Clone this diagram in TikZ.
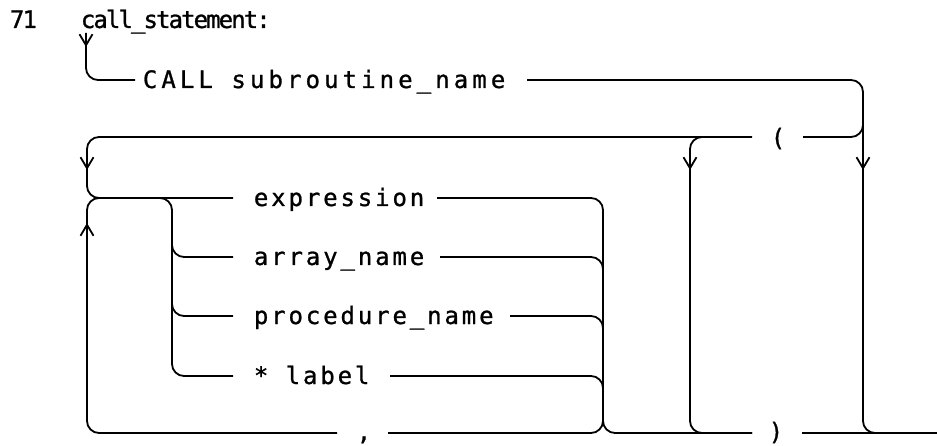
\documentclass[tikz,border=0pt]{standalone}
\usepackage{fontspec}
\setmainfont{DejaVu Sans}
\newfontfamily\rrfont[LetterSpace=12,FakeBold=1]{DejaVu Sans Mono}
\newfontfamily\rcfont[LetterSpace=17,FakeBold=1]{DejaVu Sans Mono}
\newfontfamily\rtfont[LetterSpace=-8,FakeBold=1]{DejaVu Sans Mono}
\usetikzlibrary{arrows.meta}
\begin{document}
\begin{tikzpicture}[x=1pt,y=-1pt,line width=1.8pt,rounded corners=12pt,
  lbl/.style={anchor=base west,inner sep=0pt,font={\rrfont\fontsize{24}{28}\selectfont}},
  cl/.style={anchor=base west,inner sep=0pt,font={\rcfont\fontsize{24}{28}\selectfont}},
  ttl/.style={anchor=base west,inner sep=0pt,font={\rtfont\fontsize{24}{28}\selectfont}},
  sym/.style={anchor=base,inner sep=0pt,font={\rrfont\fontsize{24}{28}\selectfont}},
  arr/.style={-{Straight Barb[length=11pt,width=13pt]},rounded corners=0pt}]
\useasboundingbox (0,0) rectangle (937,446);
% texts
\node[ttl] (num) at (9,28) {71};
\node[ttl] (title) at (80,28) {call\_statement:};
\node[cl] (call) at (142,88) {CALL subroutine\_name};
\node[sym] (lp) at (778,146) {(};
\node[lbl] (expr) at (253,206) {expression};
\node[lbl] (arrn) at (253,265) {array\_name};
\node[lbl] (proc) at (253,324) {procedure\_name};
\node[lbl] (lab) at (253,384) {* label};
\node[sym] (comma) at (364,440) {,};
\node[sym] (rp) at (776,440) {)};
% junction coordinates
\coordinate (in) at (86,33);
\coordinate (jR) at (863,80);
\coordinate (jL) at (87,198);
\coordinate (jM) at (603,433);
\coordinate (out) at (937,433);
% entry
\draw (in) -- (86,80) -- (135,80);
\draw[arr] (in) -- (86,47);
\draw (527,80) -- (jR) -- (863,433) -- (out);
\draw[arr] (863,150) -- (863,170);
% to "("
\draw (863,110) -- (863,137) -- (803,137);
\draw (752,137) -- (87,137) -- (jL) -- (233,198);
\draw[arr] (87,150) -- (87,170);
% empty parentheses branch
\draw (720,137) -- (690,137) -- (690,433) -- (752,433);
\draw[arr] (690,150) -- (690,170);
% alternatives, left side
\draw (150,198) -- (172,198) -- (172,376) -- (233,376);
\draw (172,240) -- (172,257) -- (233,257);
\draw (172,300) -- (172,316) -- (233,316);
% alternatives, right side
\draw (437,198) -- (603,198) -- (jM) -- (752,433);
\draw (440,257) -- (603,257) -- (603,275);
\draw (510,316) -- (603,316) -- (603,335);
\draw (390,376) -- (603,376) -- (603,395);
% comma loop
\draw (603,410) -- (jM) -- (388,433);
\draw (337,433) -- (87,433) -- (jL) -- (110,198);
\draw[arr] (87,245) -- (87,223);
% after ")"
\draw (802,433) -- (out);
\end{tikzpicture}
\end{document}
